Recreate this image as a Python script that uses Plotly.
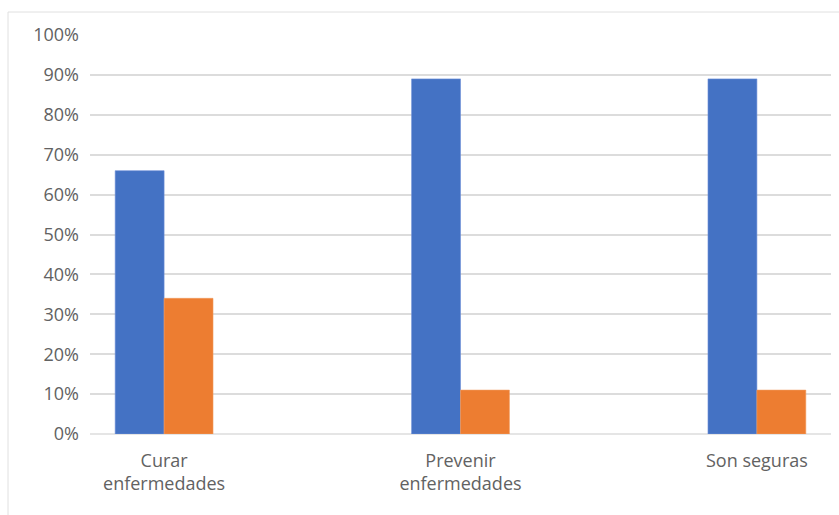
import plotly.graph_objects as go

categories = ["Curar<br>enfermedades", "Prevenir<br>enfermedades", "Son seguras"]
series_blue = [0.66, 0.89, 0.89]
series_orange = [0.34, 0.11, 0.11]
y_ticks = [0, 0.1, 0.2, 0.3, 0.4, 0.5, 0.6, 0.7, 0.8, 0.9, 1.0]
y_tick_labels = ["0%", "10%", "20%", "30%", "40%", "50%", "60%", "70%", "80%", "90%", "100%"]

x_pos = list(range(len(categories)))
bar_w = 0.165

fig = go.Figure()
fig.add_trace(go.Bar(x=x_pos, y=series_blue, width=bar_w, offset=-bar_w,
                     marker=dict(color="#4472C4", line=dict(color="#6b8fd6", width=0.6)),
                     name="Sí"))
fig.add_trace(go.Bar(x=x_pos, y=series_orange, width=bar_w, offset=0,
                     marker=dict(color="#ED7D31", line=dict(color="#f29a5c", width=0.6)),
                     name="No"))

grid_color = "#dcdcdc"
font_family = "Open Sans, Noto Sans, sans-serif"
text_color = "#626262"

fig.update_layout(
    width=839, height=515,
    margin=dict(l=90, r=8, t=35, b=81),
    paper_bgcolor="white", plot_bgcolor="white",
    showlegend=False,
    font=dict(family=font_family, color=text_color, size=18),
    xaxis=dict(
        range=[-0.25, 2.25], tickvals=x_pos, ticktext=categories,
        showgrid=False, zeroline=False, showline=False, ticks="",
        ticklabelstandoff=14,
        tickfont=dict(size=18, color=text_color),
    ),
    yaxis=dict(
        range=[0, 1], tickvals=y_ticks, ticktext=y_tick_labels,
        showgrid=True, gridcolor=grid_color, gridwidth=1.5,
        zeroline=False, showline=False, ticks="", ticklabelstandoff=10,
        tickfont=dict(size=18, color=text_color),
    ),
    shapes=[
        dict(type="line", xref="paper", yref="paper", x0=0, x1=1, y0=0, y1=0,
             line=dict(color=grid_color, width=1.5), layer="below"),
        dict(type="rect", xref="paper", yref="paper",
             x0=(8 - 90) / 741, x1=1.05, y0=-0.3, y1=(434 - 12) / 399,
             line=dict(color="#e0e0e0", width=1), fillcolor="rgba(0,0,0,0)"),
    ],
)

fig.write_html("out.html")
